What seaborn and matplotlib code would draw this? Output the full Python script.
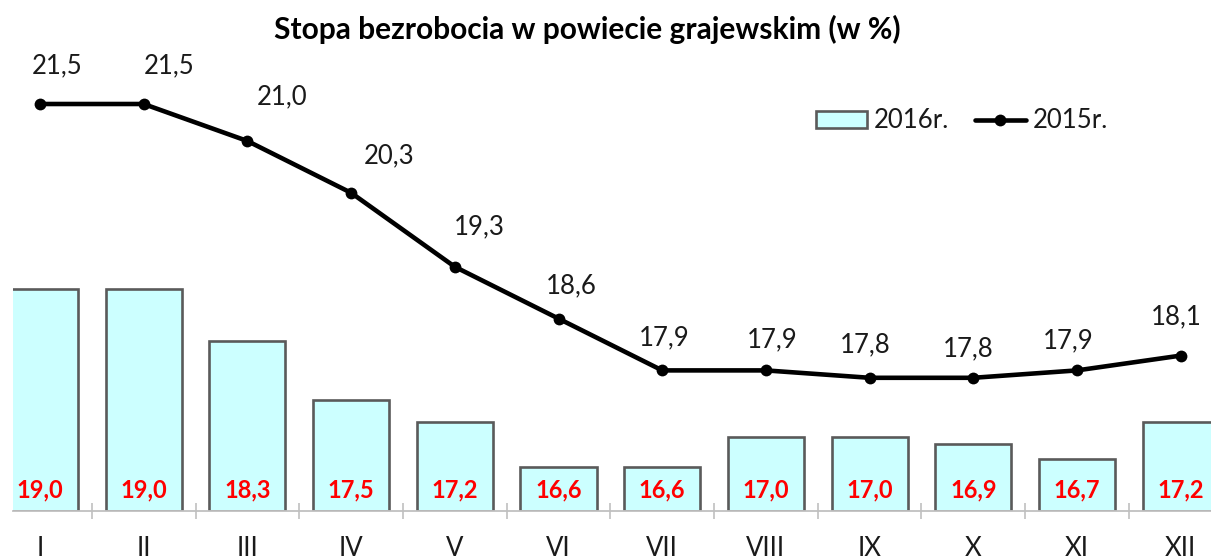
import numpy as np
import pandas as pd
import matplotlib
matplotlib.use("Agg")
import matplotlib.pyplot as plt
from matplotlib.patches import Patch
from matplotlib.lines import Line2D
import seaborn as sns

# Monthly unemployment rate, Grajewo county (%)
months = ["I", "II", "III", "IV", "V", "VI", "VII", "VIII", "IX", "X", "XI", "XII"]
rate_2016 = [19.0, 19.0, 18.3, 17.5, 17.2, 16.6, 16.6, 17.0, 17.0, 16.9, 16.7, 17.2]
rate_2015 = [21.5, 21.5, 21.0, 20.3, 19.3, 18.6, 17.9, 17.9, 17.8, 17.8, 17.9, 18.1]
series_names = ["2016r.", "2015r."]
title = "Stopa bezrobocia w powiecie grajewskim (w %)"

# Label nudges for the 2015 values (pixels: right, up)
label_dx = [17, 25, 35, 38, 24, 13, 2, 6, -4, -5, -9, -4]
label_dy = [38, 38, 44, 37, 40, 33, 33, 31, 33, 29, 30, 39]

BASE = 16.0
YMAX = 22.5

sns.set_theme(style="white")
plt.rcParams["font.family"] = ["Lato", "DejaVu Sans"]

W, H = 1211, 557
fig = plt.figure(figsize=(W / 100, H / 100), dpi=100)

# axes geometry in pixels
px_left = 13
px_step = 103.7
px_cat0 = 40
px_base = 511
px_per_unit = 74
x_lo = (px_left - px_cat0) / px_step
x_hi = 11.5
ax_w = (x_hi - x_lo) * px_step
ax_h = (YMAX - BASE) * px_per_unit
ax = fig.add_axes([px_left / W, (H - px_base) / H, ax_w / W, ax_h / H])

df = pd.DataFrame({"month": months, "r2016": rate_2016, "r2015": rate_2015})

sns.barplot(data=df, x="month", y="r2016", ax=ax, color="#CCFFFF",
            width=0.733, edgecolor="#5a5a5a", linewidth=1.9, saturation=1)
for p in ax.patches:
    top = p.get_height()
    p.set_y(BASE)
    p.set_height(top - BASE)

sns.lineplot(x=np.arange(len(months)), y=df["r2015"], ax=ax, color="black",
             linewidth=3.3, marker="o", markersize=8.5, markeredgewidth=0)

ax.set_xlim(x_lo, x_hi)
ax.set_ylim(BASE, YMAX)

# red values inside bars
for i, v in enumerate(rate_2016):
    ax.annotate(f"{v:.1f}".replace(".", ","), (i, BASE), xytext=(0, 21 * 0.72),
                textcoords="offset points", ha="center", va="center",
                color="#FF0000", fontsize=17, fontweight="bold")

# black values above line points
for i, v in enumerate(rate_2015):
    ax.annotate(f"{v:.1f}".replace(".", ","), (i, v),
                xytext=(label_dx[i] * 0.72, label_dy[i] * 0.72),
                textcoords="offset points", ha="center", va="center",
                color="#1a1a1a", fontsize=18.5)

for s in ["top", "left", "right"]:
    ax.spines[s].set_visible(False)
ax.spines["bottom"].set_color("#c0c0c0")
ax.spines["bottom"].set_linewidth(1.3)
ax.set_yticks([])
ax.set_xlabel("")
ax.set_ylabel("")
ax.set_xticks(np.arange(len(months)))
ax.set_xticklabels(months)
ax.tick_params(axis="x", which="major", length=0, pad=18, labelsize=18.5,
               labelcolor="#1a1a1a")
ax.set_xticks(np.arange(len(months) - 1) + 0.5, minor=True)
ax.tick_params(axis="x", which="minor", length=12, direction="inout",
               color="#c0c0c0", width=1.2, bottom=True)

fig.text(587 / W, 1 - 29 / H, title, ha="center", va="center",
         fontsize=21.5, fontweight="bold", color="#000000")

handles = [
    Patch(facecolor="#CCFFFF", edgecolor="#5a5a5a", linewidth=1.9),
    Line2D([], [], color="black", linewidth=3.3, marker="o", markersize=8.5,
           markeredgewidth=0),
]
fig.legend(handles, series_names, loc="center left",
           bbox_to_anchor=(816 / W, 1 - 121 / H), ncol=2, frameon=False,
           fontsize=18.5, handlelength=2.0, handleheight=0.62,
           handletextpad=0.25, columnspacing=1.0, borderpad=0,
           borderaxespad=0, labelcolor="#1a1a1a")

fig.savefig("out.png", dpi=100)
